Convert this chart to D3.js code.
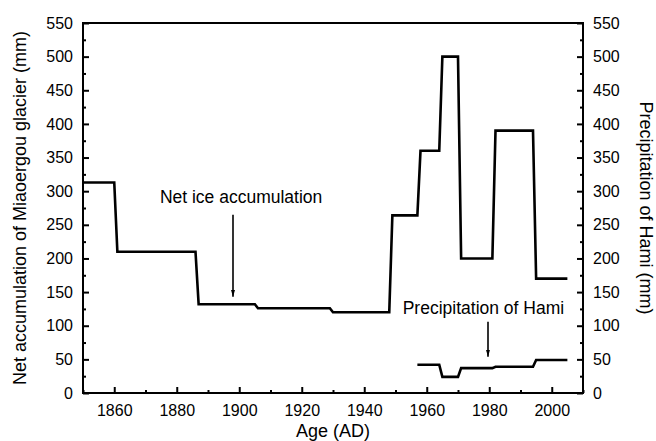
<!DOCTYPE html>
<html>
<head>
<meta charset="utf-8">
<script src="https://cdn.jsdelivr.net/npm/d3@7/dist/d3.min.js"></script>
<style>
  html, body { margin: 0; padding: 0; background: #fff; }
  svg { display: block; font-family: "Liberation Sans", Arial, sans-serif; }
</style>
</head>
<body>
<svg id="chart" width="656" height="441"></svg>
<script>
// ---- Data ----
const netYears  = [1850, 1860, 1861, 1886, 1887, 1905, 1906, 1929, 1930, 1948, 1949, 1957, 1958, 1964, 1965, 1970, 1971, 1981, 1982, 1994, 1995, 2005];
const netValues = [313,  313,  210,  210,  132,  132,  126,  126,  120,  120,  264,  264,  360,  360,  500,  500,  200,  200,  390,  390,  170,  170];

const precipYears  = [1957, 1964, 1965, 1970, 1971, 1981, 1982, 1994, 1995, 2005];
const precipValues = [42,   42,   24,   24,   37,   37,   39,   39,   49,   49];

const xMajorTicks = [1860, 1880, 1900, 1920, 1940, 1960, 1980, 2000];
const xMinorTicks = [1850, 1870, 1890, 1910, 1930, 1950, 1970, 1990, 2010];
const yMajorTicks = [0, 50, 100, 150, 200, 250, 300, 350, 400, 450, 500, 550];
const yMinorTicks = [25, 75, 125, 175, 225, 275, 325, 375, 425, 475, 525];

const xTitle = "Age (AD)";
const yLeftTitle = "Net accumulation of Miaoergou glacier (mm)";
const yRightTitle = "Precipitation of Hami (mm)";

// annotations: label anchor (year, value) and arrow (year, from value, to value)
const annotLabels = ["Net ice accumulation", "Precipitation of Hami"];
const annotTextYear = [1874.6, 1952.3];
const annotTextVal  = [283, 118];
const annotArrowYear = [1898, 1979.6];
const annotArrowFrom = [265, 106];
const annotArrowTo   = [143, 54];

// ---- Layout ----
const svg = d3.select("#chart");
const L = 83, R = 583, T = 23, B = 393;

const x = d3.scaleLinear().domain([1850, 2010]).range([L, R]);
const yL = d3.scaleLinear().domain([0, 550]).range([B, T]);
const yR = d3.scaleLinear().domain([0, 550]).range([B, T]);

const fs = 16;

// Bottom axis (ticks inward)
const xAxis = d3.axisBottom(x).tickValues(xMajorTicks).tickFormat(d3.format("d")).tickSizeInner(-6).tickSizeOuter(0).tickPadding(12);
const gx = svg.append("g").attr("transform", `translate(0,${B})`).call(xAxis);
const xMinor = d3.axisBottom(x).tickValues(xMinorTicks).tickFormat("").tickSizeInner(-3).tickSizeOuter(0);
svg.append("g").attr("transform", `translate(0,${B})`).call(xMinor).select(".domain").remove();

// Left axis
const yAxisL = d3.axisLeft(yL).tickValues(yMajorTicks).tickSizeInner(-6).tickSizeOuter(0).tickPadding(10);
const gyl = svg.append("g").attr("transform", `translate(${L},0)`).call(yAxisL);
const yMinorL = d3.axisLeft(yL).tickValues(yMinorTicks).tickFormat("").tickSizeInner(-3).tickSizeOuter(0);
svg.append("g").attr("transform", `translate(${L},0)`).call(yMinorL).select(".domain").remove();

// Right axis
const yAxisR = d3.axisRight(yR).tickValues(yMajorTicks).tickSizeInner(-6).tickSizeOuter(0).tickPadding(10);
const gyr = svg.append("g").attr("transform", `translate(${R},0)`).call(yAxisR);
const yMinorR = d3.axisRight(yR).tickValues(yMinorTicks).tickFormat("").tickSizeInner(-3).tickSizeOuter(0);
svg.append("g").attr("transform", `translate(${R},0)`).call(yMinorR).select(".domain").remove();

svg.selectAll(".tick line").attr("stroke", "#000").attr("stroke-width", 2);
svg.selectAll(".domain").remove();
svg.selectAll(".tick text").attr("font-size", fs).attr("fill", "#000")
   .attr("font-family", "'Liberation Sans', Arial, sans-serif");
gx.selectAll(".tick text").attr("dy", "0.71em");

// Frame
svg.append("rect").attr("x", L).attr("y", T).attr("width", R - L).attr("height", B - T)
   .attr("fill", "none").attr("stroke", "#000").attr("stroke-width", 2);

// Lines
const netData = netYears.map((d, i) => [d, netValues[i]]);
const precipData = precipYears.map((d, i) => [d, precipValues[i]]);

svg.append("path").datum(netData)
  .attr("fill", "none").attr("stroke", "#000").attr("stroke-width", 2.6).attr("stroke-linejoin", "miter")
  .attr("d", d3.line().x(d => x(d[0])).y(d => yL(d[1])));

svg.append("path").datum(precipData)
  .attr("fill", "none").attr("stroke", "#000").attr("stroke-width", 2.6).attr("stroke-linejoin", "miter")
  .attr("d", d3.line().x(d => x(d[0])).y(d => yR(d[1])));

// Annotations
const defs = svg.append("defs");
defs.append("marker").attr("id", "arr").attr("viewBox", "0 0 10 10")
  .attr("refX", 10).attr("refY", 5).attr("markerWidth", 6).attr("markerHeight", 6)
  .attr("markerUnits", "userSpaceOnUse").attr("orient", "auto")
  .append("path").attr("d", "M0,0 L10,5 L0,10 Z").attr("fill", "#000");

annotLabels.forEach((lab, i) => {
  svg.append("text").attr("x", x(annotTextYear[i])).attr("y", yL(annotTextVal[i]))
    .attr("font-size", 17.5).attr("fill", "#000").text(lab);
  svg.append("line")
    .attr("x1", x(annotArrowYear[i])).attr("x2", x(annotArrowYear[i]))
    .attr("y1", yL(annotArrowFrom[i])).attr("y2", yL(annotArrowTo[i]))
    .attr("stroke", "#000").attr("stroke-width", 1.6)
    .attr("marker-end", "url(#arr)");
});

// Arrowheads drawn as marker with longer head
defs.select("marker").attr("markerWidth", 7).attr("markerHeight", 11)
  .attr("viewBox", "0 0 12 7").attr("refX", 12).attr("refY", 3.5);
defs.select("marker path").attr("d", "M0,0 L12,3.5 L0,7 Z");

// Titles
svg.append("text").attr("x", (L + R) / 2).attr("y", 437).attr("text-anchor", "middle")
  .attr("font-size", 18).attr("fill", "#000").text(xTitle);

svg.append("text").attr("transform", `translate(26,${(T + B) / 2}) rotate(-90)`)
  .attr("text-anchor", "middle").attr("font-size", 18).attr("fill", "#000").text(yLeftTitle);

svg.append("text").attr("transform", `translate(640,${(T + B) / 2}) rotate(90)`)
  .attr("text-anchor", "middle").attr("font-size", 18).attr("fill", "#000").text(yRightTitle);
</script>
</body>
</html>
